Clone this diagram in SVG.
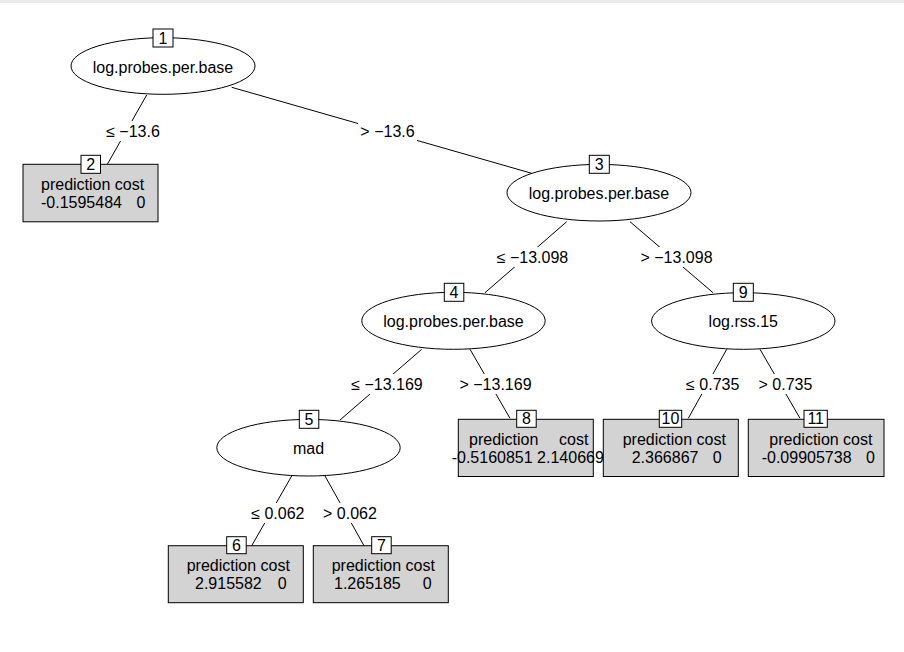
<svg xmlns="http://www.w3.org/2000/svg" width="904" height="652" viewBox="0 0 904 652">
<style>
text{font-family:"Liberation Sans",Arial,sans-serif;font-size:16px;fill:#000}
.m{text-anchor:middle}
.ell{fill:#fff;stroke:#000;stroke-width:1}
.leaf{fill:#d3d3d3;stroke:#000;stroke-width:1}
.id{fill:#fff;stroke:#000;stroke-width:1}
.edge{stroke:#000;stroke-width:1;fill:none}
.lbg{fill:#fff;stroke:none}
</style>
<rect x="0" y="0" width="904" height="652" fill="#fff"/>
<rect x="0" y="0" width="904" height="3" fill="#ebebeb"/>
<g id="connectors">
<line class="edge" x1="146.7" y1="95" x2="107.3" y2="164.3"/>
<line class="edge" x1="231.7" y1="87.3" x2="531.7" y2="173.3"/>
<line class="edge" x1="566.7" y1="221.7" x2="485" y2="292.7"/>
<line class="edge" x1="630" y1="221.7" x2="713" y2="292.7"/>
<line class="edge" x1="421.7" y1="349.3" x2="340" y2="420"/>
<line class="edge" x1="470" y1="349.3" x2="510" y2="418.3"/>
<line class="edge" x1="726.7" y1="349.3" x2="688.3" y2="418.3"/>
<line class="edge" x1="760" y1="349.3" x2="800" y2="418.3"/>
<line class="edge" x1="291.7" y1="476" x2="251.7" y2="545.7"/>
<line class="edge" x1="325" y1="476" x2="364" y2="545.7"/>
<rect class="lbg" x="104" y="121" width="58" height="20"/>
<text class="m" x="133" y="136.5">≤ −13.6</text>
<rect class="lbg" x="358" y="121" width="59" height="20"/>
<text class="m" x="387.5" y="136.5">&gt; −13.6</text>
<rect class="lbg" x="495" y="247" width="75" height="20"/>
<text class="m" x="532.5" y="262.5">≤ −13.098</text>
<rect class="lbg" x="639" y="247" width="75" height="20"/>
<text class="m" x="676.5" y="262.5">&gt; −13.098</text>
<rect class="lbg" x="349" y="374" width="76" height="20"/>
<text class="m" x="387" y="389.5">≤ −13.169</text>
<rect class="lbg" x="458" y="374" width="76" height="20"/>
<text class="m" x="495.5" y="389.5">&gt; −13.169</text>
<rect class="lbg" x="685" y="374" width="56" height="20"/>
<text class="m" x="712.7" y="389.5">≤ 0.735</text>
<rect class="lbg" x="757" y="374" width="57" height="20"/>
<text class="m" x="785.5" y="389.5">&gt; 0.735</text>
<rect class="lbg" x="250" y="503" width="56" height="20"/>
<text class="m" x="277.8" y="518.8">≤ 0.062</text>
<rect class="lbg" x="322" y="503" width="57" height="20"/>
<text class="m" x="350" y="518.8">&gt; 0.062</text>
</g>
<g id="node1">
<ellipse class="ell" cx="163" cy="66" rx="92" ry="28.3"/>
<text class="m" x="163" y="72.5">log.probes.per.base</text>
<rect class="id" x="153" y="29" width="20" height="18"/>
<text class="m" x="163" y="44">1</text>
</g>
<g id="node2">
<rect class="leaf" x="23" y="164.3" width="135" height="57.5"/>
<rect class="id" x="81" y="155.3" width="19.5" height="18"/>
<text class="m" x="90.7" y="170.3">2</text>
<text x="41" y="189.8">prediction cost</text>
<text y="207.8"><tspan x="41">-0.1595484</tspan><tspan x="136.5">0</tspan></text>
</g>
<g id="node3">
<ellipse class="ell" cx="599" cy="192.7" rx="92" ry="28.3"/>
<text class="m" x="599" y="199">log.probes.per.base</text>
<rect class="id" x="589.3" y="155.3" width="20" height="18"/>
<text class="m" x="599.3" y="170.3">3</text>
</g>
<g id="node4">
<ellipse class="ell" cx="453.5" cy="320.8" rx="91.7" ry="28.5"/>
<text class="m" x="453.5" y="327">log.probes.per.base</text>
<rect class="id" x="444.3" y="283.3" width="19.5" height="18"/>
<text class="m" x="454" y="298.3">4</text>
</g>
<g id="node5">
<ellipse class="ell" cx="308.5" cy="447.7" rx="91.7" ry="28.3"/>
<text class="m" x="308.5" y="454">mad</text>
<rect class="id" x="299.3" y="410.3" width="19.5" height="18"/>
<text class="m" x="309" y="425.3">5</text>
</g>
<g id="node6">
<rect class="leaf" x="168.3" y="545.7" width="135" height="57"/>
<rect class="id" x="226.7" y="536.7" width="19.5" height="17"/>
<text class="m" x="236.4" y="550.7">6</text>
<text x="186.7" y="571.2">prediction cost</text>
<text y="589.2"><tspan x="195">2.915582</tspan><tspan x="277.8">0</tspan></text>
</g>
<g id="node7">
<rect class="leaf" x="313.3" y="545.7" width="135" height="57"/>
<rect class="id" x="371.7" y="536.7" width="19.5" height="17"/>
<text class="m" x="381.4" y="550.7">7</text>
<text x="331.7" y="571.2">prediction cost</text>
<text y="589.2"><tspan x="334">1.265185</tspan><tspan x="422.8">0</tspan></text>
</g>
<g id="node8">
<rect class="leaf" x="458.3" y="419.3" width="135" height="57.2"/>
<rect class="id" x="516.7" y="410.3" width="19.5" height="17"/>
<text class="m" x="526.4" y="424.3">8</text>
<text y="444.8"><tspan x="469">prediction</tspan><tspan x="559">cost</tspan></text>
<text x="451.7" y="462.8">-0.5160851 2.140669</text>
</g>
<g id="node9">
<ellipse class="ell" cx="743.3" cy="321" rx="91.7" ry="28.3"/>
<text class="m" x="743.3" y="327.2">log.rss.15</text>
<rect class="id" x="733.3" y="283.3" width="20" height="18"/>
<text class="m" x="743.3" y="298.3">9</text>
</g>
<g id="node10">
<rect class="leaf" x="603.3" y="419.3" width="135" height="57.2"/>
<rect class="id" x="659.3" y="410.3" width="22.4" height="17"/>
<text class="m" x="670.5" y="424.3">10</text>
<text x="622.7" y="444.8">prediction cost</text>
<text y="462.8"><tspan x="631.7">2.366867</tspan><tspan x="712.8">0</tspan></text>
</g>
<g id="node11">
<rect class="leaf" x="748.3" y="419.3" width="135.7" height="57.2"/>
<rect class="id" x="804" y="410.3" width="23.3" height="17"/>
<text class="m" x="815.7" y="424.3">11</text>
<text x="769.3" y="444.8">prediction cost</text>
<text y="462.8"><tspan x="761.7">-0.09905738</tspan><tspan x="866.1">0</tspan></text>
</g>
</svg>
